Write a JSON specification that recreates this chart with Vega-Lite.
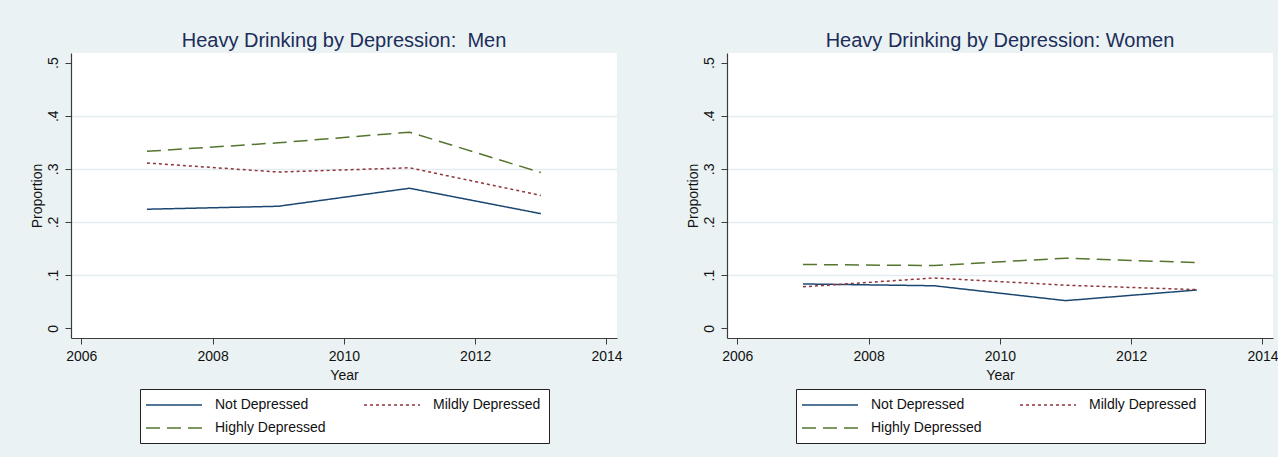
{
  "$schema": "https://vega.github.io/schema/vega-lite/v6.json",
  "background": "#EAF2F3",
  "padding": {"left": 30, "top": 31, "right": 6, "bottom": 16},
  "datasets": {
    "drink": [
      {"sex": "Men", "year": 2007, "group": "Not Depressed", "p": 0.224},
      {"sex": "Men", "year": 2009, "group": "Not Depressed", "p": 0.2296},
      {"sex": "Men", "year": 2011, "group": "Not Depressed", "p": 0.2635},
      {"sex": "Men", "year": 2013, "group": "Not Depressed", "p": 0.2157},
      {"sex": "Men", "year": 2007, "group": "Mildly Depressed", "p": 0.311},
      {"sex": "Men", "year": 2009, "group": "Mildly Depressed", "p": 0.294},
      {"sex": "Men", "year": 2011, "group": "Mildly Depressed", "p": 0.302},
      {"sex": "Men", "year": 2013, "group": "Mildly Depressed", "p": 0.25},
      {"sex": "Men", "year": 2007, "group": "Highly Depressed", "p": 0.333},
      {"sex": "Men", "year": 2009, "group": "Highly Depressed", "p": 0.349},
      {"sex": "Men", "year": 2011, "group": "Highly Depressed", "p": 0.369},
      {"sex": "Men", "year": 2013, "group": "Highly Depressed", "p": 0.293},
      {"sex": "Women", "year": 2007, "group": "Not Depressed", "p": 0.0834},
      {"sex": "Women", "year": 2009, "group": "Not Depressed", "p": 0.08},
      {"sex": "Women", "year": 2011, "group": "Not Depressed", "p": 0.052},
      {"sex": "Women", "year": 2013, "group": "Not Depressed", "p": 0.072},
      {"sex": "Women", "year": 2007, "group": "Mildly Depressed", "p": 0.078},
      {"sex": "Women", "year": 2009, "group": "Mildly Depressed", "p": 0.0947},
      {"sex": "Women", "year": 2011, "group": "Mildly Depressed", "p": 0.081},
      {"sex": "Women", "year": 2013, "group": "Mildly Depressed", "p": 0.0727},
      {"sex": "Women", "year": 2007, "group": "Highly Depressed", "p": 0.12},
      {"sex": "Women", "year": 2009, "group": "Highly Depressed", "p": 0.118},
      {"sex": "Women", "year": 2011, "group": "Highly Depressed", "p": 0.132},
      {"sex": "Women", "year": 2013, "group": "Highly Depressed", "p": 0.1235}
    ]
  },
  "spacing": 110,
  "bounds": "flush",
  "hconcat": [
    {
      "data": {"name": "drink"},
      "transform": [{"filter": "datum.sex == 'Men'"}],
      "title": {"text": "Heavy Drinking by Depression:\u00a0 Men"},
      "width": 546,
      "height": 285,
      "mark": {"type": "line", "strokeWidth": 1.5},
      "encoding": {
        "x": {"field": "year", "type": "quantitative", "title": "Year",
              "scale": {"domain": [2005.843, 2014.16], "nice": false, "zero": false},
              "axis": {"values": [2006, 2008, 2010, 2012, 2014], "format": "d", "grid": false}},
        "y": {"field": "p", "type": "quantitative", "title": "Proportion",
              "scale": {"domain": [-0.0183, 0.518], "nice": false, "zero": false},
              "axis": {"values": [0, 0.1, 0.2, 0.3, 0.4, 0.5],
                       "labelExpr": "datum.value == 0 ? '0' : replace(format(datum.value, '.1f'), '0.', '.')",
                       "gridOpacity": {"condition": {"test": "datum.value <= 0.001 || datum.value >= 0.499", "value": 0}, "value": 1}}},
        "color": {"field": "group", "type": "nominal", "title": null,
                  "scale": {"domain": ["Not Depressed", "Mildly Depressed", "Highly Depressed"], "range": ["#1a476f", "#90353b", "#55752f"]}},
        "strokeDash": {"field": "group", "type": "nominal", "title": null,
                       "scale": {"domain": ["Not Depressed", "Mildly Depressed", "Highly Depressed"], "range": [[1, 0], [3, 3], [14, 7]]}}
      }
    },
    {
      "data": {"name": "drink"},
      "transform": [{"filter": "datum.sex == 'Women'"}],
      "title": {"text": "Heavy Drinking by Depression: Women"},
      "width": 546,
      "height": 285,
      "mark": {"type": "line", "strokeWidth": 1.5},
      "encoding": {
        "x": {"field": "year", "type": "quantitative", "title": "Year",
              "scale": {"domain": [2005.843, 2014.16], "nice": false, "zero": false},
              "axis": {"values": [2006, 2008, 2010, 2012, 2014], "format": "d", "grid": false}},
        "y": {"field": "p", "type": "quantitative", "title": "Proportion",
              "scale": {"domain": [-0.0183, 0.518], "nice": false, "zero": false},
              "axis": {"values": [0, 0.1, 0.2, 0.3, 0.4, 0.5],
                       "labelExpr": "datum.value == 0 ? '0' : replace(format(datum.value, '.1f'), '0.', '.')",
                       "gridOpacity": {"condition": {"test": "datum.value <= 0.001 || datum.value >= 0.499", "value": 0}, "value": 1}}},
        "color": {"field": "group", "type": "nominal", "title": null,
                  "scale": {"domain": ["Not Depressed", "Mildly Depressed", "Highly Depressed"], "range": ["#1a476f", "#90353b", "#55752f"]}},
        "strokeDash": {"field": "group", "type": "nominal", "title": null,
                       "scale": {"domain": ["Not Depressed", "Mildly Depressed", "Highly Depressed"], "range": [[1, 0], [3, 3], [14, 7]]}}
      }
    }
  ],
  "resolve": {
    "scale": {"color": "independent", "strokeDash": "independent", "x": "independent", "y": "independent"},
    "legend": {"color": "independent", "strokeDash": "independent"}
  },
  "config": {
    "font": "Liberation Sans",
    "view": {"fill": "white", "stroke": null},
    "title": {"fontSize": 20, "fontWeight": "normal", "color": "#1c2d5a", "anchor": "middle", "offset": 2},
    "axis": {
      "labelFontSize": 14, "labelColor": "#111111",
      "titleFontSize": 14, "titleFontWeight": "normal", "titleColor": "#111111",
      "domainColor": "#3c3c3c", "domainWidth": 1.2,
      "tickColor": "#3c3c3c", "tickSize": 6, "tickWidth": 1,
      "gridColor": "#e3ecee", "gridWidth": 1.4
    },
    "axisX": {"labelPadding": 5, "titlePadding": 5},
    "axisY": {"labelAngle": -90, "labelAlign": "center", "labelBaseline": "bottom", "labelPadding": 5, "titlePadding": 2},
    "legend": {
      "orient": "bottom", "direction": "horizontal", "columns": 2,
      "layout": {"bottom": {"anchor": "middle"}},
      "symbolType": "M-1.43,0H6.57", "symbolSize": 196, "symbolStrokeWidth": 1.5,
      "labelFontSize": 14, "labelColor": "#111111", "labelOffset": 51, "labelLimit": 300,
      "columnPadding": 34, "rowPadding": 8, "gridAlign": "all",
      "fillColor": "white", "strokeColor": "#222222", "padding": 8, "offset": 7
    }
  }
}
